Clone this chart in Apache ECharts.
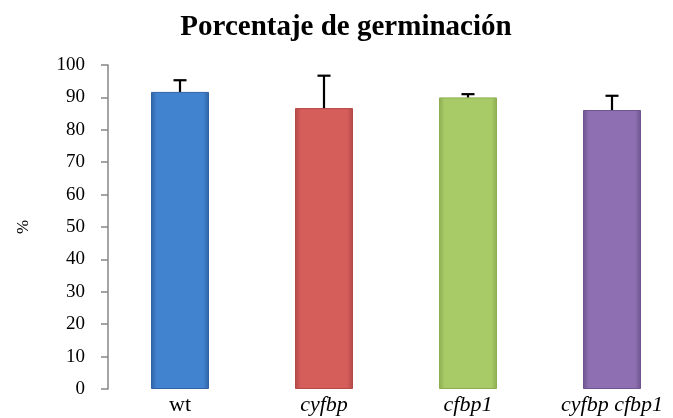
<!DOCTYPE html>
<html>
<head>
<meta charset="utf-8">
<script src="https://cdn.jsdelivr.net/npm/echarts@6/dist/echarts.min.js"></script>
<style>
  html, body { margin: 0; padding: 0; background: #fff; }
  #chart { width: 673px; height: 418px; }
</style>
</head>
<body>
<div id="chart"></div>
<script>
const categories = ['wt', 'cyfbp', 'cfbp1', 'cyfbp cfbp1']
const values = [91.7, 86.7, 90.0, 86.1]
const errors = [3.6, 10.0, 1.0, 4.4]
const yTicks = [0, 10, 20, 30, 40, 50, 60, 70, 80, 90, 100]

// [edge, center] shades per bar
const Colors = [
  ['#2F63A6', '#4283D0'],
  ['#B34946', '#D55D5A'],
  ['#8DAD50', '#A9CB67'],
  ['#6D548F', '#8E70B2']
]

const serif = '"Liberation Serif", "DejaVu Serif", serif'

function barFill(i) {
  const c = Colors[i]
  return new echarts.graphic.LinearGradient(0, 0, 1, 0, [
    { offset: 0, color: c[0] },
    { offset: 0.1, color: c[1] },
    { offset: 0.9, color: c[1] },
    { offset: 1, color: c[0] }
  ])
}

const chart = echarts.init(document.getElementById('chart'))

chart.setOption({
  animation: false,
  title: {
    text: 'Porcentaje de germinación',
    left: 341,
    textAlign: 'center',
    top: 8,
    textStyle: {
      fontFamily: serif,
      fontWeight: 'bold',
      fontSize: 29,
      color: '#000'
    }
  },
  grid: {
    left: 108,
    top: 65,
    width: 576,
    height: 324,
    outerBoundsMode: 'none'
  },
  xAxis: {
    type: 'category',
    data: categories,
    axisLine: { show: false },
    axisTick: { show: false },
    axisLabel: {
      interval: 0,
      hideOverlap: false,
      margin: 5,
      fontFamily: serif,
      fontSize: 22,
      color: '#000',
      formatter: function (v) {
        return v === 'wt' ? v : '{i|' + v + '}'
      },
      rich: {
        i: {
          fontFamily: serif,
          fontSize: 22,
          fontStyle: 'italic',
          color: '#000'
        }
      }
    }
  },
  yAxis: {
    type: 'value',
    min: yTicks[0],
    max: yTicks[yTicks.length - 1],
    interval: 10,
    name: '%',
    nameLocation: 'middle',
    nameGap: 76,
    nameRotate: 90,
    nameTextStyle: {
      fontFamily: serif,
      fontSize: 17,
      color: '#000'
    },
    axisLine: {
      show: true,
      lineStyle: { color: '#868686', width: 1.5 }
    },
    axisTick: {
      show: true,
      length: 7,
      lineStyle: { color: '#868686', width: 1.5 }
    },
    axisLabel: {
      margin: 23,
      fontFamily: serif,
      fontSize: 19,
      color: '#000'
    },
    splitLine: { show: false }
  },
  series: [
    {
      type: 'bar',
      barWidth: 58,
      data: values.map((v, i) => ({
        value: v,
        itemStyle: {
          color: barFill(i),
          borderColor: Colors[i][0],
          borderWidth: 1
        }
      }))
    },
    {
      type: 'custom',
      z: 5,
      data: values.map((v, i) => [i, v, v + errors[i]]),
      renderItem: function (params, api) {
        const base = api.coord([api.value(0), api.value(1)])
        const top = api.coord([api.value(0), api.value(2)])
        const half = 6.5
        const style = { stroke: '#000', lineWidth: 2.2 }
        return {
          type: 'group',
          children: [
            {
              type: 'line',
              shape: { x1: base[0], y1: base[1], x2: top[0], y2: top[1] },
              style: style
            },
            {
              type: 'line',
              shape: { x1: top[0] - half, y1: top[1], x2: top[0] + half, y2: top[1] },
              style: style
            }
          ]
        }
      }
    }
  ]
})
</script>
</body>
</html>
